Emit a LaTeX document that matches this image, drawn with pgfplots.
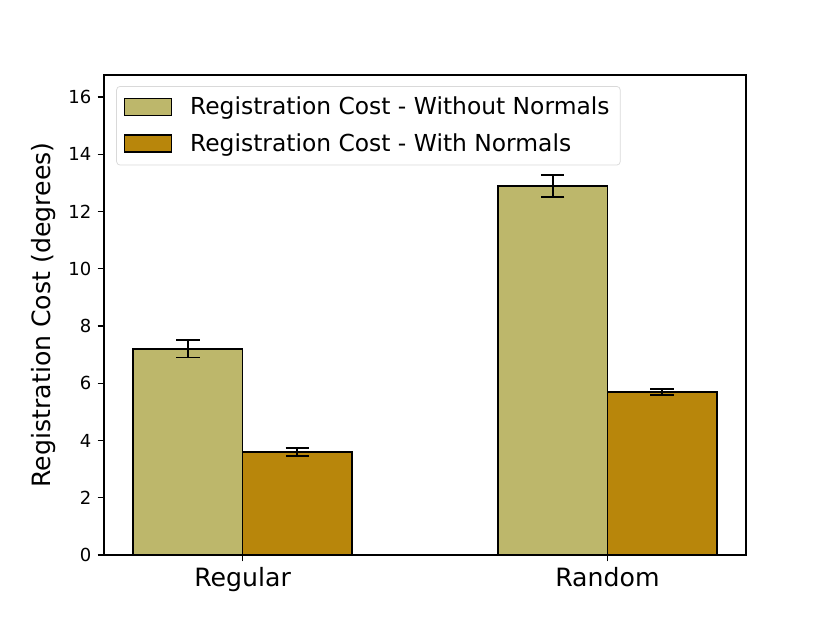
\documentclass[border=0pt]{standalone}
\usepackage{pgfplots}
\pgfplotsset{compat=1.18}
\usepackage{fontspec}
\setmainfont{DejaVu Sans}
\definecolor{khaki}{RGB}{189,183,107}
\definecolor{goldenrod}{RGB}{184,134,11}
\begin{document}
\begin{tikzpicture}
\path[use as bounding box] (0,0) rectangle (6.3846in,4.7923in);
\begin{axis}[
  at={(0.8in,0.5231in)}, anchor=south west,
  scale only axis,
  width=4.9385in, height=3.6923in,
  xmin=-0.38, xmax=1.38,
  ymin=0, ymax=16.77,
  ytick={0,2,...,16},
  xtick={0,1},
  xticklabels={Regular,Random},
  xticklabel style={font=\fontsize{14}{16}\selectfont},
  yticklabel style={font=\fontsize{10}{12}\selectfont},
  /pgf/number format/assume math mode=true,
  tick align=outside,
  major tick length=3.5pt,
  tick style={black, line width=0.8pt},
  axis line style={line width=0.8pt},
  xtick pos=bottom, ytick pos=left,
  ylabel={Registration Cost (degrees)},
  ylabel style={font=\fontsize{14}{16}\selectfont},
  ybar,
  bar width=0.3,
  legend style={at={(0.019,0.977)}, anchor=north west, font=\fontsize{13}{15}\selectfont,
    draw=black!15, rounded corners=2pt, inner xsep=4pt, inner ysep=4pt, row sep=5pt},
  legend cell align=left,
  legend image code/.code={\draw[#1, line width=0.8pt, sharp corners] (0pt,-4.5pt) rectangle (26pt,5pt);
    \path[draw=none, fill=none] (0pt,0pt) -- (34.5pt,0pt);},
]
\addplot[fill=khaki, draw=black, line width=0.8pt, bar shift=-0.15,
  error bars/.cd, y dir=both, y explicit,
  error bar style={line width=1pt, black},
  error mark options={rotate=90, mark size=6.5pt, line width=1pt, black}]
  coordinates {(0,7.2) +- (0,0.3) (1,12.89) +- (0,0.38)};
\addlegendentry{Registration Cost - Without Normals}
\addplot[fill=goldenrod, draw=black, line width=0.8pt, bar shift=0.15,
  error bars/.cd, y dir=both, y explicit,
  error bar style={line width=1pt, black},
  error mark options={rotate=90, mark size=6.5pt, line width=1pt, black}]
  coordinates {(0,3.6) +- (0,0.14) (1,5.7) +- (0,0.1)};
\addlegendentry{Registration Cost - With Normals}
\end{axis}
\end{tikzpicture}
\end{document}
